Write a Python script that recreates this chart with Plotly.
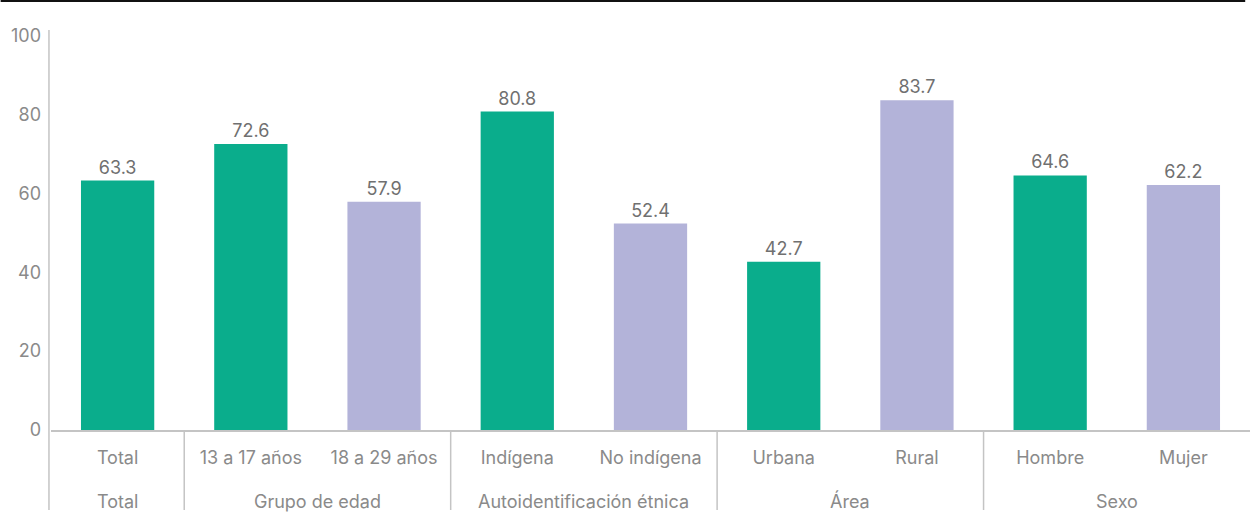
import plotly.graph_objects as go

# Grouped categories (outer level) and their sub-categories (inner level)
groups = ["Total", "Grupo de edad", "Autoidentificación étnica", "Área", "Sexo"]
group_sizes = [1, 2, 2, 2, 2]
categories = ["Total", "13 a 17 años", "18 a 29 años",
              "Indígena", "No indígena", "Urbana", "Rural",
              "Hombre", "Mujer"]
values = [63.3, 72.6, 57.9, 80.8, 52.4, 42.7, 83.7, 64.6, 62.2]

GREEN = "#0aad8c"
LAVENDER = "#b3b3d9"
bar_colors = [GREEN, GREEN, LAVENDER, GREEN, LAVENDER, GREEN, LAVENDER, GREEN, LAVENDER]

FONT = "Inter"
TEXT_GRAY = "#8a8a8a"
LINE_GRAY = "#c4c4c4"
FONT_SIZE = 18

fig = go.Figure(
    go.Bar(
        x=list(range(len(categories))),
        y=values,
        marker=dict(color=bar_colors, line=dict(width=0)),
        width=0.55,
        text=[f"{v:.1f}" for v in values],
        textposition="outside",
        textfont=dict(family=FONT, size=FONT_SIZE, color="#707070"),
        cliponaxis=False,
        hoverinfo="skip",
    )
)

fig.update_layout(
    width=1250,
    height=515,
    margin=dict(l=51, r=0, t=30, b=85),
    paper_bgcolor="white",
    plot_bgcolor="white",
    showlegend=False,
    font=dict(family=FONT, size=FONT_SIZE, color=TEXT_GRAY),
    xaxis=dict(
        range=[-0.5, len(categories) - 0.5],
        tickvals=list(range(len(categories))),
        ticktext=categories,
        showline=True,
        linecolor=LINE_GRAY,
        linewidth=1.5,
        ticks="",
        ticklabelstandoff=11,
        tickfont=dict(family=FONT, size=FONT_SIZE, color=TEXT_GRAY),
        showgrid=False,
        zeroline=False,
    ),
    yaxis=dict(
        range=[0, 101.5],
        tickvals=[0, 20, 40, 60, 80, 100],
        showgrid=False,
        zeroline=False,
        showline=False,
        ticks="",
        ticklabelstandoff=9,
        tickfont=dict(family=FONT, size=FONT_SIZE, color=TEXT_GRAY),
    ),
)

# Outer group labels and the dividers between groups
start = 0
for name, size in zip(groups, group_sizes):
    center = start + (size - 1) / 2
    fig.add_annotation(x=center, xref="x", y=-0.1775, yref="paper",
                       text=name, showarrow=False, yanchor="middle",
                       font=dict(family=FONT, size=FONT_SIZE, color=TEXT_GRAY))
    if start > 0:
        fig.add_shape(type="line", xref="x", yref="paper",
                      x0=start - 0.5, x1=start - 0.5, y0=0, y1=-0.2,
                      line=dict(color=LINE_GRAY, width=1.5))
    start += size

# Vertical axis rule running from the top of the plot down through the label band
fig.add_shape(type="line", xref="paper", yref="paper",
              x0=-0.0017, x1=-0.0017, y0=1.0, y1=-0.2,
              line=dict(color=LINE_GRAY, width=1.5))
# Dark rule along the top of the figure
fig.add_shape(type="line", xref="paper", yref="paper",
              x0=-0.042, x1=0.996, y0=1.073, y1=1.073,
              line=dict(color="#111111", width=2.5))

fig.write_html("out.html")
